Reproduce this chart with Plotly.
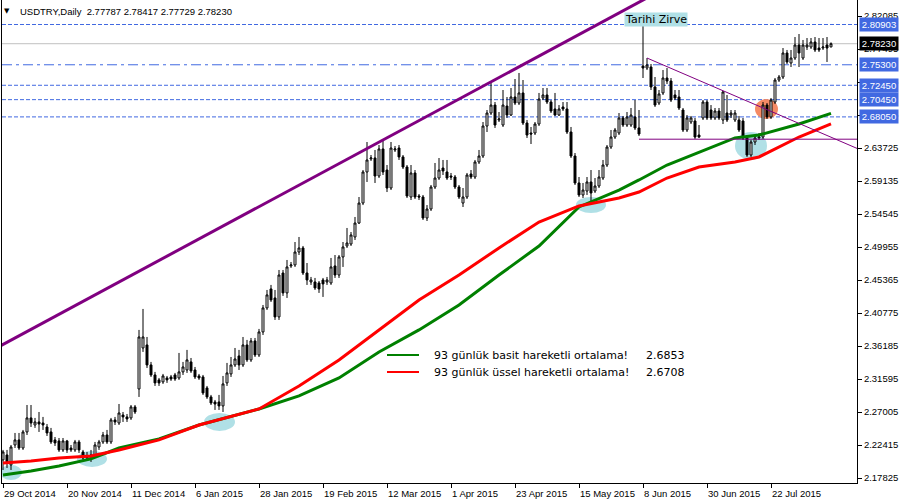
import plotly.graph_objects as go

# ---------------- data ----------------
date_tick_labels = ["29 Oct 2014", "20 Nov 2014", "11 Dec 2014", "6 Jan 2015", "28 Jan 2015",
                    "19 Feb 2015", "12 Mar 2015", "1 Apr 2015", "23 Apr 2015", "15 May 2015",
                    "8 Jun 2015", "30 Jun 2015", "22 Jul 2015"]
date_tick_bars = [0, 16, 32, 48, 64, 80, 96, 112, 128, 144, 160, 176, 192]

price_ticks = [2.17825, 2.22415, 2.27005, 2.31595, 2.36185, 2.40775, 2.45365, 2.49955,
               2.54545, 2.59135, 2.63725, 2.68315, 2.72905, 2.77495, 2.82085]

opens = [2.2034, 2.2103, 2.1964, 2.2242, 2.2312, 2.2200, 2.2423, 2.2618, 2.2520, 2.2562,
         2.2548, 2.2492, 2.2423, 2.2312, 2.2298, 2.2173, 2.2298, 2.2200, 2.2173, 2.2284,
         2.2145, 2.2089, 2.2061, 2.2089, 2.2214, 2.2284, 2.2381, 2.2284, 2.2590, 2.2548,
         2.2659, 2.2632, 2.2618, 2.2771, 2.3021, 2.3591, 2.3633, 2.3355, 2.3216, 2.3147,
         2.3119, 2.3174, 2.3188, 2.3216, 2.3174, 2.3258, 2.3285, 2.3397, 2.3285, 2.3202,
         2.3188, 2.3035, 2.2910, 2.2840, 2.2840, 2.2785, 2.3105, 2.3230, 2.3355, 2.3480,
         2.3355, 2.3633, 2.3425, 2.3689, 2.3494, 2.3814, 2.4148, 2.4412, 2.4287, 2.4023,
         2.4634, 2.4357, 2.4732, 2.4746, 2.4926, 2.4982, 2.4634, 2.4509, 2.4509, 2.4495,
         2.4537, 2.4509, 2.4495, 2.4732, 2.4606, 2.4857, 2.5010, 2.5037, 2.5135, 2.5329,
         2.5607, 2.6039, 2.6220, 2.6234, 2.5983, 2.6359, 2.6066, 2.5816, 2.6345, 2.6372,
         2.6248, 2.6108, 2.5691, 2.6025, 2.5705, 2.5691, 2.5399, 2.5524, 2.5830, 2.5955,
         2.6094, 2.6039, 2.5983, 2.5969, 2.5830, 2.5607, 2.5691, 2.6011, 2.5969, 2.6178,
         2.6261, 2.6678, 2.6859, 2.6970, 2.6762, 2.6692, 2.6956, 2.6831, 2.7082, 2.6998,
         2.7138, 2.6720, 2.6581, 2.6581, 2.6706, 2.7068, 2.7110, 2.7012, 2.6915, 2.6831,
         2.6943, 2.6915, 2.6595, 2.6261, 2.5886, 2.5719, 2.5774, 2.5900, 2.5774, 2.5844,
         2.5955, 2.6136, 2.6386, 2.6525, 2.6581, 2.6790, 2.6692, 2.6692, 2.6804, 2.6651,
         2.7513, 2.7485, 2.7499, 2.7221, 2.6998, 2.7138, 2.7346, 2.7304, 2.7110, 2.7082,
         2.6901, 2.6623, 2.6734, 2.6748, 2.6553, 2.6790, 2.7012, 2.6901, 2.6790, 2.6887,
         2.6762, 2.6859, 2.6831, 2.6762, 2.6762, 2.6748, 2.6512, 2.6275, 2.6456, 2.6512,
         2.6525, 2.6970, 2.6804, 2.7012, 2.7318, 2.7360, 2.7694, 2.7555, 2.7624, 2.7805,
         2.7624, 2.7777, 2.7777, 2.7847, 2.7763, 2.7763, 2.7805, 2.77787]
highs = [2.2173, 2.2173, 2.2242, 2.2409, 2.2409, 2.2451, 2.2798, 2.2798, 2.2618, 2.2701,
         2.2632, 2.2534, 2.2479, 2.2353, 2.2339, 2.2339, 2.2312, 2.2242, 2.2312, 2.2312,
         2.2173, 2.2145, 2.2173, 2.2284, 2.2312, 2.2423, 2.2451, 2.2618, 2.2632, 2.2812,
         2.2701, 2.2673, 2.2798, 2.2798, 2.3842, 2.4134, 2.3744, 2.3397, 2.3258, 2.3174,
         2.3230, 2.3202, 2.3216, 2.3244, 2.3522, 2.3397, 2.3564, 2.3452, 2.3327, 2.3230,
         2.3216, 2.3063, 2.2938, 2.2868, 2.2938, 2.3202, 2.3383, 2.3466, 2.3591, 2.3564,
         2.3744, 2.3703, 2.3730, 2.3730, 2.3856, 2.4189, 2.4398, 2.4468, 2.4398, 2.4676,
         2.4676, 2.4815, 2.4787, 2.5065, 2.5135, 2.5010, 2.4773, 2.4579, 2.4565, 2.4523,
         2.4565, 2.4579, 2.4843, 2.4884, 2.4884, 2.5065, 2.5260, 2.5204, 2.5413, 2.5691,
         2.6066, 2.6456, 2.6275, 2.6345, 2.6414, 2.6484, 2.6136, 2.6456, 2.6400, 2.6414,
         2.6275, 2.6136, 2.6136, 2.6066, 2.5732, 2.5719, 2.5579, 2.5858, 2.6164, 2.6233,
         2.6206, 2.6206, 2.6025, 2.5997, 2.5858, 2.5816, 2.6025, 2.6066, 2.6206, 2.6345,
         2.6734, 2.6901, 2.7277, 2.7012, 2.6873, 2.7179, 2.7082, 2.7207, 2.7332, 2.7416,
         2.7318, 2.6762, 2.6665, 2.6734, 2.7138, 2.7207, 2.7207, 2.7040, 2.7138, 2.6970,
         2.7012, 2.7012, 2.6665, 2.6303, 2.5969, 2.5886, 2.5969, 2.6066, 2.5955, 2.6066,
         2.6206, 2.6414, 2.6623, 2.6651, 2.6859, 2.6818, 2.6873, 2.6929, 2.7040, 2.6901,
         2.8090, 2.7624, 2.7541, 2.7360, 2.7179, 2.7457, 2.7485, 2.7346, 2.7179, 2.7179,
         2.6929, 2.6831, 2.6818, 2.6790, 2.6692, 2.7040, 2.7040, 2.6970, 2.6929, 2.6929,
         2.7166, 2.7110, 2.6901, 2.6901, 2.6818, 2.6790, 2.6539, 2.6484, 2.6553, 2.6581,
         2.7012, 2.6998, 2.7068, 2.7346, 2.7388, 2.7763, 2.7736, 2.7736, 2.7916, 2.7958,
         2.7875, 2.7902, 2.7902, 2.7916, 2.7902, 2.7902, 2.7916, 2.78417]
lows = [2.1894, 2.1922, 2.1894, 2.2200, 2.2173, 2.2173, 2.2381, 2.2492, 2.2479, 2.2423,
        2.2451, 2.2367, 2.2256, 2.2228, 2.2145, 2.2145, 2.2131, 2.2145, 2.2145, 2.2131,
        2.2034, 2.2034, 2.2006, 2.2061, 2.2173, 2.2256, 2.2256, 2.2256, 2.2520, 2.2520,
        2.2562, 2.2562, 2.2590, 2.2673, 2.2910, 2.3536, 2.3313, 2.3188, 2.3063, 2.3063,
        2.3091, 2.3105, 2.3133, 2.3133, 2.3147, 2.3216, 2.3244, 2.3244, 2.3160, 2.3147,
        2.2938, 2.2882, 2.2798, 2.2729, 2.2729, 2.2701, 2.3063, 2.3188, 2.3327, 2.3285,
        2.3327, 2.3397, 2.3397, 2.3466, 2.3466, 2.3772, 2.4120, 2.4231, 2.3981, 2.3981,
        2.4315, 2.4287, 2.4704, 2.4718, 2.4884, 2.4606, 2.4468, 2.4468, 2.4398, 2.4357,
        2.4301, 2.4468, 2.4468, 2.4565, 2.4565, 2.4718, 2.4982, 2.5010, 2.5093, 2.5315,
        2.5579, 2.5900, 2.6192, 2.5886, 2.5955, 2.5997, 2.5760, 2.5788, 2.6317, 2.6206,
        2.6080, 2.5677, 2.5649, 2.5663, 2.5649, 2.5371, 2.5357, 2.5496, 2.5802, 2.5928,
        2.5997, 2.5928, 2.5928, 2.5802, 2.5663, 2.5552, 2.5663, 2.5941, 2.5941, 2.6150,
        2.6233, 2.6595, 2.6831, 2.6651, 2.6734, 2.6665, 2.6790, 2.6818, 2.6970, 2.6970,
        2.6692, 2.6512, 2.6428, 2.6553, 2.6678, 2.7040, 2.6984, 2.6859, 2.6818, 2.6818,
        2.6887, 2.6567, 2.6233, 2.5858, 2.5691, 2.5677, 2.5719, 2.5621, 2.5747, 2.5816,
        2.5928, 2.6108, 2.6359, 2.6498, 2.6553, 2.6665, 2.6665, 2.6665, 2.6623, 2.6539,
        2.7346, 2.7457, 2.7179, 2.6943, 2.6970, 2.7110, 2.7263, 2.7012, 2.7040, 2.6901,
        2.6595, 2.6595, 2.6706, 2.6498, 2.6512, 2.6762, 2.6762, 2.6762, 2.6762, 2.6762,
        2.6706, 2.6734, 2.6790, 2.6734, 2.6595, 2.6484, 2.6248, 2.6248, 2.6414, 2.6484,
        2.6498, 2.6776, 2.6776, 2.6984, 2.7291, 2.7332, 2.7541, 2.7499, 2.7597, 2.7499,
        2.7597, 2.7736, 2.7750, 2.7708, 2.7708, 2.7736, 2.7569, 2.77729]
closes = [2.2145, 2.2006, 2.2214, 2.2312, 2.2200, 2.2423, 2.2618, 2.2548, 2.2562, 2.2534,
          2.2520, 2.2409, 2.2284, 2.2270, 2.2173, 2.2298, 2.2173, 2.2173, 2.2284, 2.2173,
          2.2061, 2.2061, 2.2103, 2.2242, 2.2284, 2.2381, 2.2284, 2.2590, 2.2562, 2.2687,
          2.2632, 2.2604, 2.2771, 2.2701, 2.3744, 2.3744, 2.3355, 2.3216, 2.3105, 2.3105,
          2.3202, 2.3147, 2.3160, 2.3160, 2.3258, 2.3327, 2.3425, 2.3272, 2.3188, 2.3174,
          2.2966, 2.2910, 2.2826, 2.2812, 2.2785, 2.3091, 2.3244, 2.3355, 2.3438, 2.3355,
          2.3633, 2.3425, 2.3689, 2.3494, 2.3814, 2.4148, 2.4329, 2.4259, 2.4023, 2.4606,
          2.4357, 2.4718, 2.4746, 2.4926, 2.4982, 2.4634, 2.4537, 2.4537, 2.4426, 2.4412,
          2.4482, 2.4537, 2.4718, 2.4606, 2.4857, 2.4996, 2.5051, 2.5163, 2.5329, 2.5607,
          2.6039, 2.6206, 2.6234, 2.5983, 2.6359, 2.6039, 2.5816, 2.6372, 2.6359, 2.6248,
          2.6108, 2.5705, 2.6025, 2.5691, 2.5691, 2.5399, 2.5524, 2.5830, 2.5955, 2.6066,
          2.6053, 2.5955, 2.5969, 2.5830, 2.5691, 2.5691, 2.5997, 2.5969, 2.6178, 2.6261,
          2.6678, 2.6859, 2.6970, 2.6692, 2.6776, 2.6970, 2.6831, 2.7082, 2.6998, 2.7138,
          2.6720, 2.6553, 2.6567, 2.6706, 2.7054, 2.7110, 2.7012, 2.6887, 2.6831, 2.6915,
          2.6915, 2.6595, 2.6261, 2.5886, 2.5719, 2.5788, 2.5900, 2.5747, 2.5844, 2.5969,
          2.6136, 2.6386, 2.6525, 2.6623, 2.6790, 2.6692, 2.6804, 2.6831, 2.6651, 2.6567,
          2.7485, 2.7527, 2.7221, 2.6970, 2.7124, 2.7346, 2.7304, 2.7040, 2.7068, 2.6929,
          2.6623, 2.6790, 2.6790, 2.6525, 2.6525, 2.7012, 2.6790, 2.6790, 2.6887, 2.6790,
          2.7152, 2.6762, 2.6859, 2.6859, 2.6623, 2.6512, 2.6275, 2.6456, 2.6512, 2.6525,
          2.6970, 2.6804, 2.7040, 2.7318, 2.7360, 2.7694, 2.7569, 2.7624, 2.7805, 2.7694,
          2.7805, 2.7805, 2.7847, 2.7736, 2.7736, 2.7777, 2.7763, 2.78230]

# 93-period moving averages, read at selected bars
ma_bars = [0, 7, 14, 22, 29, 39, 49, 59, 64, 74, 84, 94, 104, 114, 124, 134, 144,
           154, 159, 166, 174, 183, 189, 199, 207]
sma93 = [2.1825, 2.1881, 2.1950, 2.2048, 2.2200, 2.2326, 2.2520, 2.2673, 2.2743, 2.2924,
         2.3174, 2.3536, 2.3842, 2.4189, 2.4606, 2.5009, 2.5552, 2.5788, 2.5928, 2.6136,
         2.6317, 2.6512, 2.6553, 2.6706, 2.6853]
ema93 = [2.1992, 2.2020, 2.2061, 2.2089, 2.2173, 2.2312, 2.2520, 2.2673, 2.2743, 2.3063,
         2.3425, 2.3842, 2.4259, 2.4606, 2.4982, 2.5343, 2.5566, 2.5677, 2.5760, 2.5955,
         2.6108, 2.6178, 2.6248, 2.6525, 2.6708]
sma_last = "2.6853"
ema_last = "2.6708"

# drawn objects
channel_bars = [-1, 165]
channel_prices = [2.3611, 2.8580]
down_trend_bars = [161, 213.5]
down_trend_prices = [2.7624, 2.6367]
support_bars = [159, 213.5]
support_prices = [2.6495, 2.6495]
peak_bar = 163.2
peak_price = 2.8153
peak_text = "Tarihi Zirve"

levels = [2.80903, 2.78230, 2.75300, 2.72450, 2.70450, 2.68050]
level_kinds = ["dot", "price", "dashdot", "dot", "dot", "dot"]

# highlight ellipses
zones_bar0 = [-0.75, 18.5, 50.25, 143.25, 183.0, 188.0]
zones_bar1 = [4.75, 26.0, 58.0, 150.75, 191.0, 193.75]
zones_p0 = [2.1755, 2.1936, 2.2437, 2.5468, 2.6206, 2.6776]
zones_p1 = [2.1964, 2.2159, 2.2687, 2.5691, 2.6595, 2.7054]
zones_kind = ["blue", "blue", "blue", "blue", "blue", "orange"]

title_text = "USDTRY,Daily  2.77787 2.78417 2.77729 2.78230"
legend_texts = ["93 günlük basit hareketli ortalama!", "93 günlük üssel hareketli ortalama!"]

# ---------------- figure ----------------
AX_FONT = dict(family="Liberation Sans, Arial, sans-serif", size=9.5, color="black")
LBL_FONT = dict(family="DejaVu Sans, sans-serif", size=11, color="black")
BLUE = "#4169E1"
PURPLE = "#800080"

fig = go.Figure()

zone_colors = {"blue": "#B0E0E6", "orange": "#F58A64"}
for b0, b1, p0, p1, k in zip(zones_bar0, zones_bar1, zones_p0, zones_p1, zones_kind):
    fig.add_shape(type="circle", xref="x", yref="y", x0=b0, x1=b1, y0=p0, y1=p1,
                  fillcolor=zone_colors[k], line=dict(width=0), layer="below")

for lv, kind in zip(levels, level_kinds):
    if kind == "price":
        ln = dict(color="#C0C0C0", width=1)
    elif kind == "dashdot":
        ln = dict(color=BLUE, width=1, dash="10px,4px,3px,4px")
    else:
        ln = dict(color=BLUE, width=1, dash="4px,2px")
    fig.add_shape(type="line", xref="paper", yref="y", x0=0, x1=1, y0=lv, y1=lv,
                  line=ln, layer="below")

fig.add_trace(go.Candlestick(
    x=list(range(len(closes))), open=opens, high=highs, low=lows, close=closes,
    increasing=dict(line=dict(color="black", width=1), fillcolor="white"),
    decreasing=dict(line=dict(color="black", width=1), fillcolor="black"),
    whiskerwidth=0, hoverinfo="skip", showlegend=False))

fig.add_trace(go.Scatter(x=ma_bars, y=sma93, mode="lines",
                         line=dict(color="#008000", width=3), hoverinfo="skip", showlegend=False))
fig.add_trace(go.Scatter(x=ma_bars, y=ema93, mode="lines",
                         line=dict(color="#FF0000", width=3), hoverinfo="skip", showlegend=False))

fig.add_trace(go.Scatter(x=channel_bars, y=channel_prices, mode="lines",
                         line=dict(color=PURPLE, width=3), hoverinfo="skip", showlegend=False))
fig.add_trace(go.Scatter(x=down_trend_bars, y=down_trend_prices, mode="lines",
                         line=dict(color=PURPLE, width=1), hoverinfo="skip", showlegend=False))
fig.add_trace(go.Scatter(x=support_bars, y=support_prices, mode="lines",
                         line=dict(color=PURPLE, width=1), hoverinfo="skip", showlegend=False))

annotations = []
annotations.append(dict(xref="paper", yref="paper", x=0.0064, y=0.977, xanchor="center",
                        yanchor="middle", text="▼", showarrow=False,
                        font=dict(family="DejaVu Sans", size=7, color="black")))
annotations.append(dict(xref="paper", yref="paper", x=0.0187, y=0.977, xanchor="left",
                        yanchor="middle", text=title_text, showarrow=False, font=AX_FONT))
annotations.append(dict(xref="x", yref="y", x=peak_bar, y=peak_price, text=peak_text,
                        showarrow=False, bgcolor="#B0E0E6", borderpad=0, font=LBL_FONT,
                        xanchor="center", yanchor="middle"))
for b, t in zip(date_tick_bars, date_tick_labels):
    annotations.append(dict(xref="x", yref="paper", x=b, y=0, xanchor="left", yanchor="top",
                            yshift=-3, xshift=-1, text=t, showarrow=False, font=AX_FONT))
for lv, kind in zip(levels, level_kinds):
    annotations.append(dict(xref="paper", yref="y", x=1, y=lv, xanchor="left", yanchor="middle",
                            xshift=2, text=f"{lv:.5f}", showarrow=False, width=36,
                            bgcolor="black" if kind == "price" else BLUE, borderpad=1,
                            font=dict(family=AX_FONT["family"], size=9.5, color="white")))
leg_y = [0.2650, 0.2298]
leg_col = ["#008000", "#FF0000"]
leg_vals = [sma_last, ema_last]
for yy, cc, tt, vv in zip(leg_y, leg_col, legend_texts, leg_vals):
    fig.add_shape(type="line", xref="paper", yref="paper", x0=0.4503, x1=0.4877, y0=yy, y1=yy,
                  line=dict(color=cc, width=2))
    annotations.append(dict(xref="paper", yref="paper", x=0.5029, y=yy, xanchor="left",
                            yanchor="middle", text=tt, showarrow=False, font=LBL_FONT))
    annotations.append(dict(xref="paper", yref="paper", x=0.7509, y=yy, xanchor="left",
                            yanchor="middle", text=vv, showarrow=False, font=LBL_FONT))

fig.update_layout(
    width=900, height=500,
    margin=dict(l=2, r=43, t=0, b=17),
    paper_bgcolor="white", plot_bgcolor="white",
    showlegend=False,
    annotations=annotations,
    hovermode=False,
    xaxis=dict(range=[-0.25, 213.5], rangeslider=dict(visible=False), showgrid=False,
               zeroline=False, showline=True, linecolor="black", linewidth=1,
               ticks="outside", ticklen=4, tickcolor="black", tickvals=date_tick_bars,
               showticklabels=False, fixedrange=True),
    yaxis=dict(range=[2.1713, 2.8431], side="right", showgrid=False, zeroline=False,
               showline=True, linecolor="black", linewidth=1, mirror=True,
               ticks="outside", ticklen=4, tickcolor="black", tickvals=price_ticks,
               ticktext=[f"{v:.5f}" for v in price_ticks], tickfont=AX_FONT, fixedrange=True),
)

fig.write_html("out.html", config={"displayModeBar": False},
               post_script="document.body.style.margin='0';document.body.style.overflow='hidden';")
